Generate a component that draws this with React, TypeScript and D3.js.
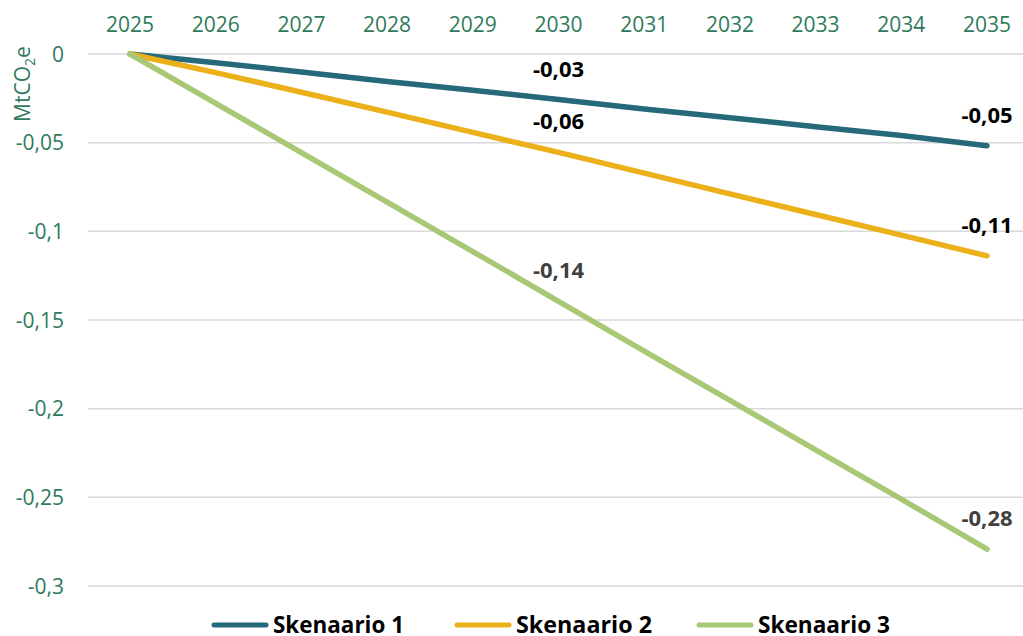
import React from 'react';
import * as d3 from 'd3';

// data
const years = [2025, 2026, 2027, 2028, 2029, 2030, 2031, 2032, 2033, 2034, 2035];
const skenaario1 = [0, -0.0049, -0.0101, -0.0155, -0.0204, -0.0257, -0.031, -0.0359, -0.041, -0.0459, -0.0517];
const skenaario2 = [0, -0.0105, -0.0216, -0.0328, -0.0442, -0.0555, -0.0672, -0.0789, -0.0905, -0.1021, -0.1138];
const skenaario3 = [0, -0.0278, -0.0556, -0.0835, -0.1114, -0.1395, -0.1675, -0.1953, -0.2232, -0.251, -0.2792];
const seriesNames = ['Skenaario 1', 'Skenaario 2', 'Skenaario 3'];
const seriesColors = ['#25697a', '#ecb01a', '#a8c876'];
const labelColors = ['#000000', '#000000', '#404040'];
const yTicks = [0, -0.05, -0.1, -0.15, -0.2, -0.25, -0.3];
const labelYears = [2030, 2035];

const W = 1023;
const H = 636;
const tickColor = '#2f7a5a';
const font = '"Open Sans", "Noto Sans", sans-serif';

const fi = d3.formatLocale({ decimal: ',', thousands: ' ', grouping: [3], currency: ['', ' €'], minus: '-' });
const fmtTick = fi.format('~g');
const fmtLabel = fi.format('.2f');

export default function App() {
    const x = d3.scaleLinear().domain([2025, 2035]).range([130, 987]);
    const y = d3.scaleLinear().domain([0, -0.3]).range([54, 586]);
    const allSeries = [skenaario1, skenaario2, skenaario3];
    const line = d3.line<number>()
        .x((d, i) => x(years[i]))
        .y(d => y(d));

    // legend layout
    const legendX = [212, 455, 697];
    const legendTextLen = [131, 136, 132];

    return (
        <div style={{ position: 'absolute', left: 0, top: 0 }}>
            <svg width={W} height={H} style={{ display: 'block', background: '#fff' }} fontFamily={font}>
                {/* gridlines */}
                {yTicks.map(t => (
                    <line key={t} x1={88} x2={W} y1={y(t)} y2={y(t)} stroke="#d9d9d9" strokeWidth={1.5} />
                ))}
                {/* y tick labels */}
                {yTicks.map(t => (
                    <text key={'yl' + t} x={64} y={y(t)} dy="0.36em" textAnchor="end" fontSize={21} fill={tickColor}>
                        {fmtTick(t)}
                    </text>
                ))}
                {/* x tick labels on top */}
                {years.map(yr => (
                    <text key={'xl' + yr} x={x(yr)} y={32} textAnchor="middle" fontSize={21} fill={tickColor}>
                        {yr}
                    </text>
                ))}
                {/* axis title */}
                <text transform="translate(30,84) rotate(-90)" textAnchor="middle" fontSize={21} fill={tickColor}>
                    MtCO<tspan fontSize={14} dy={5}>2</tspan><tspan dy={-5}>e</tspan>
                </text>
                {/* lines */}
                {allSeries.map((s, i) => (
                    <path key={'l' + i} d={line(s) || ''} fill="none" stroke={seriesColors[i]} strokeWidth={5.5}
                          strokeLinecap="round" strokeLinejoin="round" />
                ))}
                {/* data labels */}
                {allSeries.map((s, i) => labelYears.map(yr => {
                    const idx = years.indexOf(yr);
                    return (
                        <text key={'dl' + i + yr} x={x(yr)} y={y(s[idx]) - 23} textAnchor="middle"
                              fontSize={22} fontWeight="bold" fill={labelColors[i]}>
                            {fmtLabel(s[idx])}
                        </text>
                    );
                }))}
                {/* legend */}
                {seriesNames.map((n, i) => (
                    <g key={'lg' + i}>
                        <line x1={legendX[i] + 2} x2={legendX[i] + 54} y1={625} y2={625} stroke={seriesColors[i]}
                              strokeWidth={5} strokeLinecap="round" />
                        <text x={legendX[i] + 61} y={632.5} fontSize={23} fontWeight="bold" fill="#000"
                              textLength={legendTextLen[i]} lengthAdjust="spacingAndGlyphs">
                            {n}
                        </text>
                    </g>
                ))}
            </svg>
        </div>
    );
}
